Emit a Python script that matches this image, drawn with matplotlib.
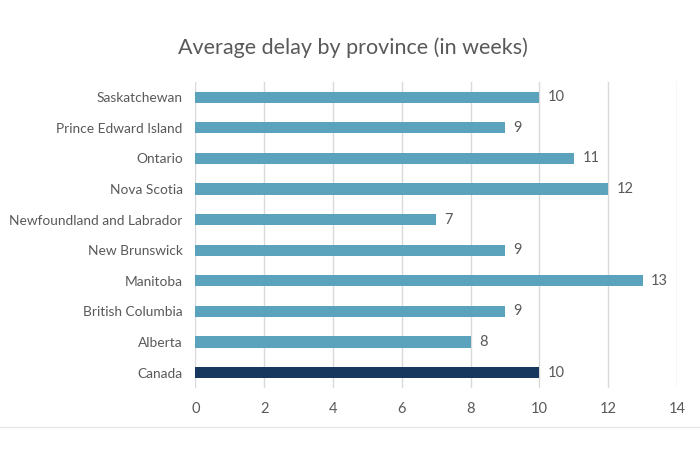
import matplotlib.pyplot as plt
from matplotlib.lines import Line2D

provinces = ["Canada", "Alberta", "British Columbia", "Manitoba", "New Brunswick",
             "Newfoundland and Labrador", "Nova Scotia", "Ontario",
             "Prince Edward Island", "Saskatchewan"]
delays = [10, 8, 9, 13, 9, 7, 12, 11, 9, 10]
ticks = [0, 2, 4, 6, 8, 10, 12, 14]

plt.rcParams['font.family'] = ['Lato', 'DejaVu Sans']
gray = "#595959"

fig = plt.figure(figsize=(7, 4.5), dpi=100)
ax = fig.add_axes([0.279, 0.138, 0.688, 0.68])

colors = ["#17375E"] + ["#5BA3BC"] * (len(provinces) - 1)
ypos = list(range(len(provinces)))
ax.barh(ypos, delays, height=0.36, color=colors, zorder=3)
for y, v in zip(ypos, delays):
    ax.text(v + 0.25, y, str(v), va='center', ha='left', fontsize=10.5, color=gray)

ax.set_xlim(0, 14)
ax.set_ylim(-0.5, len(provinces) - 0.5)
ax.set_xticks(ticks)
ax.set_yticks(ypos)
ax.set_yticklabels(provinces)
ax.tick_params(axis='x', length=0, labelsize=10.5, labelcolor=gray, pad=10)
ax.tick_params(axis='y', length=0, labelsize=9.9, labelcolor=gray, pad=9)
ax.grid(axis='x', color="#D9D9D9", linewidth=1, zorder=0)
for s in ax.spines.values():
    s.set_visible(False)

fig.text(0.504, 0.893, "Average delay by province (in weeks)", ha='center', va='center',
         fontsize=15.5, color=gray)
fig.add_artist(Line2D([0, 1], [0.051, 0.051], color="#E6E6E6", linewidth=1))

fig.savefig("out.png")
